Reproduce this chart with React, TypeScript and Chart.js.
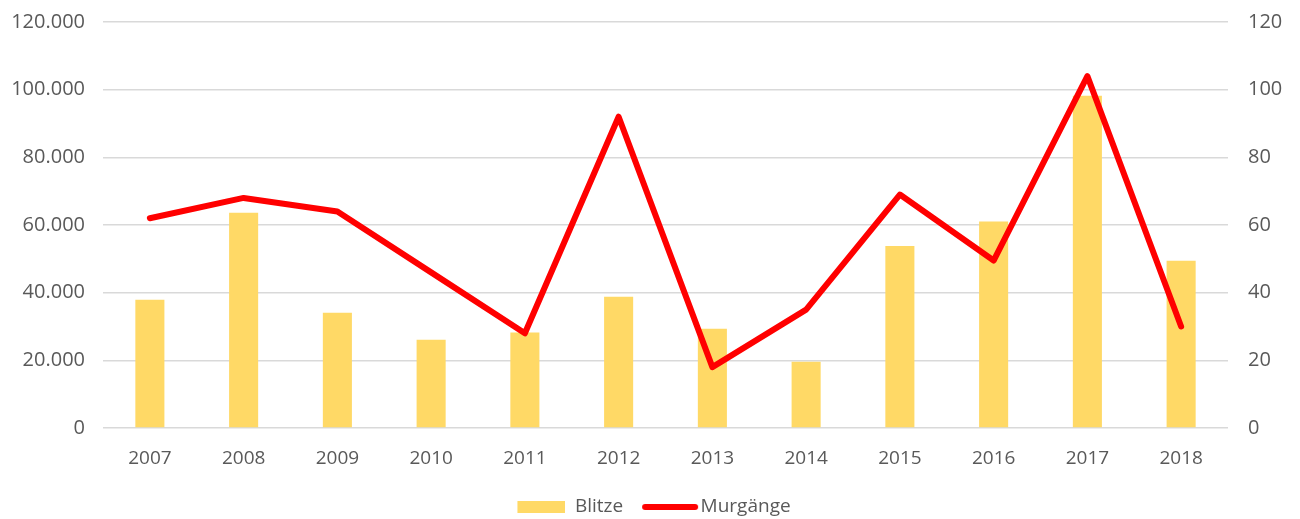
import React, { useEffect, useRef } from "react";
import { Chart, registerables } from "chart.js";

Chart.register(...registerables);

const years = ["2007", "2008", "2009", "2010", "2011", "2012", "2013", "2014", "2015", "2016", "2017", "2018"];
const blitze = [37900, 63600, 34100, 26100, 28200, 38800, 29300, 19600, 53800, 61000, 98200, 49400];
const murgaenge = [62, 68, 64, 46, 28, 92, 18, 35, 69, 49.5, 104, 30];
const leftMax = 120000;
const leftStep = 20000;
const rightMax = 120;
const rightStep = 20;

const BAR_COLOR = "#FFD966";
const LINE_COLOR = "#FF0000";
const GRID_COLOR = "#D9D9D9";
const TEXT_COLOR = "#595959";
const FONT = "'Open Sans', 'Liberation Sans', sans-serif";

function fmt(v: number): string {
  return String(v).replace(/\B(?=(\d{3})+(?!\d))/g, ".");
}

// legend marker for the bars (transparent margin on the left keeps it near its text)
function makeBarMarker(): HTMLCanvasElement {
  const c = document.createElement("canvas");
  c.width = 56;
  c.height = 12;
  const ctx = c.getContext("2d")!;
  ctx.fillStyle = BAR_COLOR;
  ctx.fillRect(8, 0, 48, 12);
  return c;
}

// legend marker for the line (extends past the box so it reaches its text)
function makeLineMarker(): HTMLCanvasElement {
  const c = document.createElement("canvas");
  c.width = 72;
  c.height = 10;
  const ctx = c.getContext("2d")!;
  ctx.strokeStyle = LINE_COLOR;
  ctx.lineWidth = 6;
  ctx.lineCap = "round";
  ctx.beginPath();
  ctx.moveTo(18, 5);
  ctx.lineTo(68, 5);
  ctx.stroke();
  return c;
}

export default function App() {
  const ref = useRef<HTMLCanvasElement | null>(null);

  useEffect(() => {
    document.body.style.margin = "0";
    if (!ref.current) return;
    const barMarker = makeBarMarker();
    const lineMarker = makeLineMarker();
    const chart = new Chart(ref.current, {
      data: {
        labels: years,
        datasets: [
          {
            type: "bar",
            label: "Blitze",
            data: blitze,
            backgroundColor: BAR_COLOR,
            borderWidth: 0,
            yAxisID: "y",
            order: 1,
            barPercentage: 0.31,
            categoryPercentage: 1.0,
            pointStyle: barMarker as any,
          },
          {
            type: "line",
            label: "Murgänge",
            data: murgaenge,
            borderColor: LINE_COLOR,
            backgroundColor: LINE_COLOR,
            borderWidth: 6,
            pointRadius: 0,
            pointHoverRadius: 0,
            borderJoinStyle: "round",
            borderCapStyle: "round",
            tension: 0,
            yAxisID: "y1",
            order: 0,
            pointStyle: lineMarker as any,
          },
        ] as any,
      },
      options: {
        animation: false,
        responsive: true,
        maintainAspectRatio: false,
        layout: { padding: { top: 22, bottom: -7.5, left: 0, right: 0 } },
        plugins: {
          tooltip: { enabled: false },
          legend: {
            position: "bottom",
            labels: {
              usePointStyle: true,
              pointStyleWidth: 56,
              color: TEXT_COLOR,
              font: { family: FONT, size: 19 },
              padding: 12,
              sort: (a: any, b: any) => a.datasetIndex - b.datasetIndex,
            },
          },
        },
        scales: {
          x: {
            grid: { display: false },
            border: { display: false },
            ticks: { color: TEXT_COLOR, font: { family: FONT, size: 19 }, padding: 11 },
            afterFit: (s: any) => {
              s.height = 57.5;
            },
          },
          y: {
            position: "left",
            min: 0,
            max: leftMax,
            grid: { color: GRID_COLOR, lineWidth: 1.5, drawTicks: false },
            border: { display: false },
            ticks: {
              stepSize: leftStep,
              color: TEXT_COLOR,
              font: { family: FONT, size: 20 },
              padding: 18,
              callback: (v: any) => fmt(Number(v)),
            },
            afterFit: (s: any) => {
              s.width = 103;
              s.paddingTop = 0;
              s.paddingBottom = 0;
            },
          },
          y1: {
            position: "right",
            min: 0,
            max: rightMax,
            grid: { display: false, drawTicks: false },
            border: { display: false },
            ticks: {
              stepSize: rightStep,
              color: TEXT_COLOR,
              font: { family: FONT, size: 20 },
              padding: 20,
            },
            afterFit: (s: any) => {
              s.width = 72;
              s.paddingTop = 0;
              s.paddingBottom = 0;
            },
          },
        },
      } as any,
    });
    return () => chart.destroy();
  }, []);

  return (
    <div style={{ position: "absolute", left: 0, top: 0, width: 1300, height: 519 }}>
      <canvas ref={ref} />
    </div>
  );
}
